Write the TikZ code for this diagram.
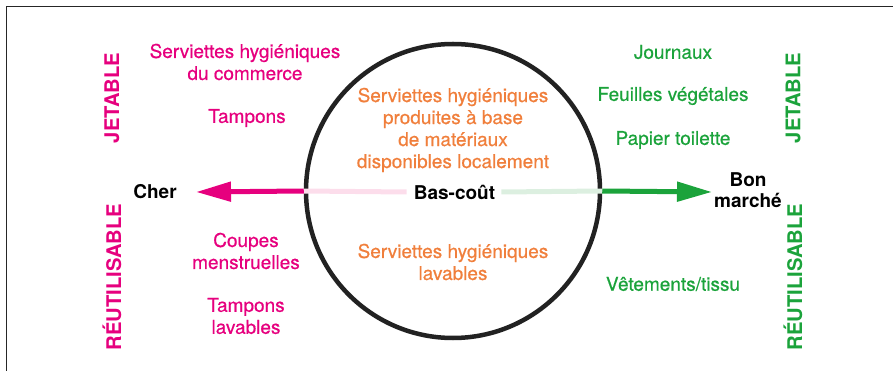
\documentclass[tikz,border=0pt]{standalone}
\usepackage{fontspec}
\setmainfont{TeX Gyre Heros}
\newfontfamily\medfont{TeX Gyre Heros}[FakeBold=0.6]
\usetikzlibrary{arrows.meta}
\definecolor{cpink}{HTML}{E6007E}
\definecolor{corange}{HTML}{F07F3C}
\definecolor{cgreen}{HTML}{1BA33B}
\definecolor{cpinklight}{HTML}{FCDDEB}
\definecolor{cgreenlight}{HTML}{DCEFE0}
\definecolor{cring}{HTML}{222222}
\begin{document}
\begin{tikzpicture}[x=1pt,y=-1pt,
  txt/.style={align=center,inner sep=0pt,font=\medfont\fontsize{19}{22}\selectfont},
  pinktxt/.style={txt,text=cpink},
  orangetxt/.style={txt,text=corange},
  greentxt/.style={txt,text=cgreen},
  blacktxt/.style={align=center,inner sep=0pt,font=\fontsize{19}{21}\selectfont\bfseries},
  sidelabel/.style={rotate=90,inner sep=0pt,font=\fontsize{20.2}{22}\selectfont\bfseries},
  thick arrow/.style={line width=5pt,-{Triangle[length=35pt,width=19pt]}},
  faint/.style={line width=5pt}]
\useasboundingbox (0,0) rectangle (893,371);
% frame
\draw[line width=1pt,black!85] (6.5,371) -- (6.5,7) -- (893,7);
% circle
\node[circle,draw=cring,line width=4.5pt,minimum size=294pt,inner sep=0pt] (circ) at (453,191) {};
% axis
\node[blacktxt] (bas) at (454.5,192) {Bas-coût};
\node[blacktxt] (cher) at (155,192) {Cher};
\node[blacktxt] (bon) at (748,190) {Bon\\marché};
\coordinate (tipL) at (196,192);
\coordinate (tipR) at (712,192);
\draw[faint,cpinklight] (circ.west) -- ([xshift=-7pt]bas.west);
\draw[faint,cgreenlight] ([xshift=6pt]bas.east) -- (circ.east);
\draw[thick arrow,cpink] (circ.west) -- (tipL);
\draw[thick arrow,cgreen] (circ.east) -- (tipR);
% side labels
\node[sidelabel,text=cpink] (jetL) at (112,98) {JETABLE};
\node[sidelabel,text=cpink] (reuL) at (112,277) {RÉUTILISABLE};
\node[sidelabel,text=cgreen] (jetR) at (793,98) {JETABLE};
\node[sidelabel,text=cgreen] (reuR) at (793,277) {RÉUTILISABLE};
% left pink items
\node[pinktxt] (l1) at (245,62) {Serviettes hygiéniques\\du commerce};
\node[pinktxt] (l2) at (247,118) {Tampons};
\node[pinktxt] (l3) at (246,251) {Coupes\\menstruelles};
\node[pinktxt] (l4) at (246,316) {Tampons\\lavables};
% centre orange items
\node[orangetxt] (c1) at (453,130) {Serviettes hygiéniques\\produites à base\\de matériaux\\disponibles localement};
\node[orangetxt] (c2) at (453,262) {Serviettes hygiéniques\\lavables};
% right green items
\node[greentxt] (r1) at (673,52) {Journaux};
\node[greentxt] (r2) at (673,96) {Feuilles végétales};
\node[greentxt] (r3) at (673,140) {Papier toilette};
\node[greentxt] (r4) at (673,284) {Vêtements/tissu};
\end{tikzpicture}
\end{document}
